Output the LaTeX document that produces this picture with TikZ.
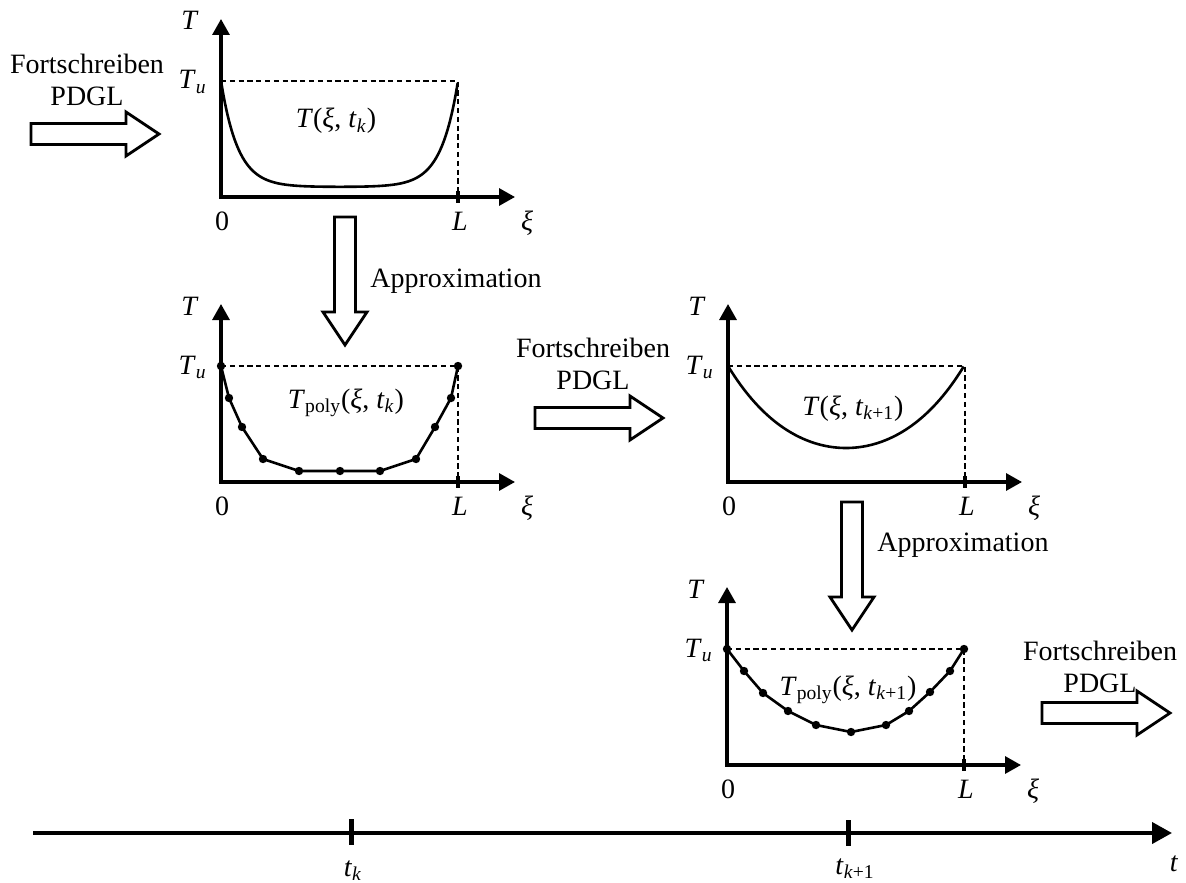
\documentclass[tikz,border=0pt]{standalone}
\usepackage{fontspec}
\setmainfont{Liberation Serif}
\usetikzlibrary{arrows.meta}
\newcommand{\Tsb}[1]{\textit{T}\textsubscript{#1}}
\newcommand{\tsb}[1]{\textit{t}\textsubscript{#1}}
\newcommand{\xii}{\textit{ξ}}
\begin{document}
\begin{tikzpicture}[x=0.5pt,y=-0.5pt,
  font=\fontsize{14}{16}\selectfont,
  txt/.style={inner sep=0pt},
  lbl/.style={inner sep=0pt,font=\fontsize{14}{16}\selectfont},
  axisline/.style={line width=1.6pt,line join=miter,{Triangle[length=8pt,width=8.5pt]}-{Triangle[length=8pt,width=8.5pt]}},
  curve/.style={line width=1.3pt,line join=round},
  guide/.style={line width=0.6pt,dash pattern=on 2.6pt off 1.8pt},
  ltick/.style={line width=1.6pt},
  dot/.style={circle,fill,inner sep=0pt,minimum size=4.2pt},
  harrow/.style={line width=1.4pt,fill=white,line join=miter},
  timeline/.style={line width=2pt,-{Triangle[length=10pt,width=10.5pt]}},
  ttick/.style={line width=2.5pt},
  hollow/.pic={\draw[harrow] (0,-10.5) -- (95,-10.5) -- (95,-22) -- (128,0) -- (95,22) -- (95,10.5) -- (0,10.5) -- cycle;},
  axes/.pic={
    \coordinate (-o) at (0,0);
    \coordinate (-ytip) at (0,-178);
    \coordinate (-xtip) at (294,0);
    \coordinate (-tu) at (0,-116);
    \coordinate (-tuR) at (237,-116);
    \coordinate (-lx) at (237,0);
    \coordinate (-la) at (237,-6);
    \coordinate (-lb) at (237,6);
    \draw[guide] (-tu) -- (-tuR) -- (-lx);
    \draw[axisline] (-ytip) -- (-o) -- (-xtip);
    \draw[ltick] (-la) -- (-lb);
    \node[lbl,anchor=base] (-T) at (-31,-167) {\textit{T}};
    \node[lbl,anchor=base east] (-Tu) at (-14,-108) {\Tsb{\textit{u}}};
    \node[lbl,anchor=base] (-zero) at (1,33) {0};
    \node[lbl,anchor=base] (-L) at (239,33) {\textit{L}};
    \node[lbl,anchor=base] (-xi) at (306,33) {\xii};
  }]
\useasboundingbox (0,0) rectangle (1186,882);

% panels
\pic (pa) at (221,197) {axes};
\pic (pb) at (221,482) {axes};
\pic (pc) at (728,482) {axes};
\pic (pd) at (727,765) {axes};

% curve panel 1
\begin{scope}[shift={(221,197)}]
  \draw[curve] plot[domain=0:1,samples=120] ({237*\x},{-116+106*(1-cosh(14*(\x-0.5))/cosh(7))});
\end{scope}

% polygon panel 2
\begin{scope}[shift={(221,482)}]
  \foreach \n/\px/\py in {1/0/-116,2/8/-84,3/21/-55,4/42/-23,5/78/-11,6/119/-11,7/159/-11,8/195/-23,9/214/-55,10/230/-84,11/237/-116}
    \node[dot] (b\n) at (\px,\py) {};
  \draw[curve] (b1.center) -- (b2.center) -- (b3.center) -- (b4.center) -- (b5.center) -- (b6.center) -- (b7.center) -- (b8.center) -- (b9.center) -- (b10.center) -- (b11.center);
\end{scope}

% curve panel 3
\begin{scope}[shift={(728,482)}]
  \draw[curve] plot[domain=0:1,samples=100] ({236*\x},{-116+82*(1-cosh(3*(\x-0.5))/cosh(1.5))/(1-1/cosh(1.5))});
\end{scope}

% polygon panel 4
\begin{scope}[shift={(727,765)}]
  \foreach \n/\px/\py in {1/0/-116,2/17/-94,3/36/-72,4/61/-54,5/89/-40,6/124/-33,7/159/-40,8/182/-54,9/203/-73,10/223/-94,11/237/-116}
    \node[dot] (d\n) at (\px,\py) {};
  \draw[curve] (d1.center) -- (d2.center) -- (d3.center) -- (d4.center) -- (d5.center) -- (d6.center) -- (d7.center) -- (d8.center) -- (d9.center) -- (d10.center) -- (d11.center);
\end{scope}

% curve labels
\node[txt,anchor=base] (la) at (336,128) {\textit{T}(\xii, \tsb{\textit{k}})};
\node[txt,anchor=base] (lb) at (346,408) {\Tsb{poly}(\xii, \tsb{\textit{k}})};
\node[txt,anchor=base] (lc) at (853,415) {\textit{T}(\xii, \tsb{\textit{k}+1})};
\node[txt,anchor=base] (ld) at (848,695) {\Tsb{poly}(\xii, \tsb{\textit{k}+1})};

% hollow arrows
\pic (ha) at (31,134) {hollow};
\pic (hb) at (535,418) {hollow};
\pic (hc) at (1042,713) {hollow};
\pic[rotate=-90] (va) at (345,217) {hollow};
\pic[rotate=-90] (vb) at (852,502) {hollow};

% texts
\node[txt,align=center] (fs1) at (87,80) {Fortschreiben\\PDGL};
\node[txt,align=center] (fs2) at (593,364) {Fortschreiben\\PDGL};
\node[txt,align=center] (fs3) at (1100,667) {Fortschreiben\\PDGL};
\node[txt,anchor=base west] (ap1) at (370,287) {Approximation};
\node[txt,anchor=base west] (ap2) at (877,551) {Approximation};

% time axis
\coordinate (t0) at (33,833);
\coordinate (t1) at (1172,833);
\coordinate (k0a) at (351,819);
\coordinate (k0b) at (351,845);
\coordinate (k1a) at (848,820);
\coordinate (k1b) at (848,846);
\draw[timeline] (t0) -- (t1);
\draw[ttick] (k0a) -- (k0b);
\draw[ttick] (k1a) -- (k1b);
\node[txt,anchor=base] (tk) at (353,876) {\tsb{\textit{k}}};
\node[txt,anchor=base] (tk1) at (855,874) {\tsb{\textit{k}+1}};
\node[txt,anchor=base] (tt) at (1174,871) {\textit{t}};
\end{tikzpicture}
\end{document}
